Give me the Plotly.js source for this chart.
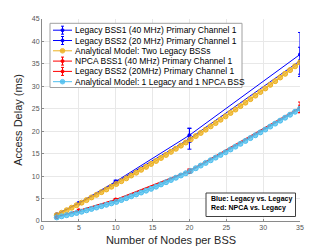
<!DOCTYPE html>
<html>
<head>
<meta charset="utf-8">
<script src="https://cdn.plot.ly/plotly-3.0.1.min.js"></script>
<style>html,body{margin:0;padding:0;background:#fff;}#chart{width:332px;height:249px;}</style>
</head>
<body>
<div id="chart"></div>
<script>
// ---- data ----
const simNodes = [2, 5, 10, 20, 35];
const legacyBss1 = [1.5, 4.0, 8.8, 19.1, 37.1];
const legacyBss1Err = [0.1, 0.2, 0.3, 1.6, 4.9];
const legacyBss2 = [1.4, 3.9, 8.6, 18.3, 35.7];
const legacyBss2Err = [0.1, 0.2, 0.3, 2.3, 3.0];
const npcaBss1 = [0.9, 2.4, 4.8, 11.2, 25.3];
const npcaBss1Err = [0.1, 0.15, 0.2, 0.4, 1.2];
const npcaLegacyBss2 = [0.9, 2.3, 4.7, 11.0, 25.0];
const npcaLegacyBss2Err = [0.1, 0.15, 0.2, 0.4, 0.8];

const modelNodes = [2.00,2.67,3.35,4.02,4.69,5.37,6.04,6.71,7.39,8.06,8.73,9.41,10.08,10.76,11.43,12.10,12.78,13.45,14.12,14.80,15.47,16.14,16.82,17.49,18.16,18.84,19.51,20.18,20.86,21.53,22.20,22.88,23.55,24.22,24.90,25.57,26.24,26.92,27.59,28.27,28.94,29.61,30.29,30.96,31.63,32.31,32.98,33.65,34.33,35.00];
const modelTwoLegacy = [1.30,1.84,2.40,2.95,3.52,4.09,4.66,5.25,5.83,6.43,7.03,7.64,8.25,8.87,9.50,10.13,10.77,11.41,12.06,12.72,13.38,14.05,14.72,15.41,16.09,16.79,17.49,18.19,18.91,19.62,20.35,21.08,21.82,22.56,23.31,24.07,24.83,25.60,26.37,27.15,27.94,28.73,29.53,30.34,31.15,31.97,32.79,33.62,34.46,35.30];
const modelLegacyNpca = [0.80,1.05,1.29,1.54,1.79,2.07,2.38,2.69,3.00,3.31,3.62,3.93,4.25,4.67,5.09,5.50,5.92,6.34,6.76,7.17,7.65,8.15,8.64,9.14,9.64,10.14,10.64,11.16,11.75,12.35,12.94,13.53,14.12,14.72,15.31,15.94,16.57,17.20,17.84,18.47,19.10,19.74,20.38,21.04,21.70,22.36,23.02,23.68,24.34,25.00];

const seriesNames = [
  'Legacy BSS1 (40 MHz) Primary Channel 1',
  'Legacy BSS2 (20 MHz) Primary Channel 1',
  'Analytical Model: Two Legacy BSSs',
  'NPCA BSS1 (40 MHz) Primary Channel 1',
  'Legacy BSS2 (20MHz) Primary Channel 1',
  'Analytical Model: 1 Legacy and 1 NPCA BSS'
];
const xTicks = [0, 5, 10, 15, 20, 25, 30, 35];
const yTicks = [0, 5, 10, 15, 20, 25, 30, 35, 40, 45];
const noteLines = ['Blue: Legacy vs. Legacy', 'Red: NPCA vs. Legacy'];

// ---- styles ----
const BLUE = '#0000ff', RED = '#ff0000', ORANGE = '#EDB120', CYAN = '#4DBEEE';
const FONT = 'Liberation Sans, Arial, sans-serif';

function simTrace(y, err, name, color) {
  return {
    x: simNodes, y: y, name: name, type: 'scatter', mode: 'lines+markers',
    line: {color: color, width: 1},
    marker: {color: color, size: 4, symbol: 'circle'},
    error_y: {type: 'data', array: err, visible: true, color: color, thickness: 1, width: 2},
    showlegend: false, hoverinfo: 'skip'
  };
}
function modelTrace(y, name, color, fill) {
  return {
    x: modelNodes, y: y, name: name, type: 'scatter', mode: 'lines+markers',
    line: {color: color, width: 1},
    marker: {color: fill, size: 5, symbol: 'circle', line: {color: color, width: 1}},
    showlegend: false, hoverinfo: 'skip'
  };
}

const traces = [
  simTrace(legacyBss1, legacyBss1Err, seriesNames[0], BLUE),
  simTrace(legacyBss2, legacyBss2Err, seriesNames[1], BLUE),
  modelTrace(modelTwoLegacy, seriesNames[2], ORANGE, 'rgba(237,177,32,0.75)'),
  simTrace(npcaBss1, npcaBss1Err, seriesNames[3], RED),
  simTrace(npcaLegacyBss2, npcaLegacyBss2Err, seriesNames[4], RED),
  modelTrace(modelLegacyNpca, seriesNames[5], CYAN, 'rgba(77,190,238,0.75)')
];

// ---- layout geometry (pixels -> paper) ----
const L = 42, R = 32, T = 19, B = 28, W = 332, H = 249;
const PW = W - L - R, PH = H - T - B;
const px = X => (X - L) / PW;
const py = Y => (H - B - Y) / PH;

const shapes = [];
const annotations = [];
// legend box
shapes.push({type: 'rect', xref: 'paper', yref: 'paper', x0: px(50), x1: px(242), y0: py(87.5), y1: py(23.3),
  line: {color: '#a0a0a0', width: 1}, fillcolor: 'rgba(255,255,255,1)', layer: 'above'});
const legColors = [BLUE, BLUE, ORANGE, RED, RED, CYAN];
const legHasErr = [true, true, false, true, true, false];
for (let k = 0; k < 6; k++) {
  const yc = 30.2 + 10.3 * k;
  shapes.push({type: 'line', xref: 'paper', yref: 'paper', x0: px(53), x1: px(72), y0: py(yc), y1: py(yc),
    line: {color: legColors[k], width: 1}, layer: 'above'});
  if (legHasErr[k]) {
    shapes.push({type: 'line', xref: 'paper', yref: 'paper', x0: px(62.5), x1: px(62.5), y0: py(yc - 4), y1: py(yc + 4),
      line: {color: legColors[k], width: 1}, layer: 'above'});
    shapes.push({type: 'line', xref: 'paper', yref: 'paper', x0: px(61), x1: px(64), y0: py(yc - 4), y1: py(yc - 4),
      line: {color: legColors[k], width: 1}, layer: 'above'});
    shapes.push({type: 'line', xref: 'paper', yref: 'paper', x0: px(61), x1: px(64), y0: py(yc + 4), y1: py(yc + 4),
      line: {color: legColors[k], width: 1}, layer: 'above'});
    shapes.push({type: 'circle', xref: 'paper', yref: 'paper', x0: px(61), x1: px(64), y0: py(yc + 1.5), y1: py(yc - 1.5),
      line: {color: legColors[k], width: 1}, fillcolor: legColors[k], layer: 'above'});
  } else {
    shapes.push({type: 'circle', xref: 'paper', yref: 'paper', x0: px(60.2), x1: px(64.8), y0: py(yc + 2.3), y1: py(yc - 2.3),
      line: {color: legColors[k], width: 1}, fillcolor: legColors[k], opacity: 0.85, layer: 'above'});
  }
  annotations.push({xref: 'paper', yref: 'paper', x: px(73), y: py(yc), xanchor: 'left', yanchor: 'middle',
    text: seriesNames[k], showarrow: false, font: {family: FONT, size: 8.5, color: '#000'}});
}
// note box
shapes.push({type: 'rect', xref: 'paper', yref: 'paper', x0: px(206), x1: px(295.5), y0: py(216.5), y1: py(193),
  line: {color: '#404040', width: 1}, fillcolor: '#fff', layer: 'above'});
annotations.push({xref: 'paper', yref: 'paper', x: px(209), y: py(198.5), xanchor: 'left', yanchor: 'middle',
  text: '<b>' + noteLines[0] + '</b>', showarrow: false, font: {family: FONT, size: 7, color: '#000'}});
annotations.push({xref: 'paper', yref: 'paper', x: px(209), y: py(207.5), xanchor: 'left', yanchor: 'middle',
  text: '<b>' + noteLines[1] + '</b>', showarrow: false, font: {family: FONT, size: 7, color: '#000'}});

const layout = {
  width: W, height: H,
  margin: {l: L, r: R, t: T, b: B, pad: 0},
  paper_bgcolor: '#fff', plot_bgcolor: '#fff',
  font: {family: FONT},
  showlegend: false,
  xaxis: {
    range: [0, 35], tickvals: xTicks, ticktext: xTicks.map(String),
    showgrid: true, gridcolor: '#e8e8e8', gridwidth: 1, zeroline: false,
    showline: true, linecolor: '#8a8a8a', linewidth: 1, mirror: false,
    ticks: 'inside', ticklen: 2, tickcolor: '#8a8a8a',
    tickfont: {family: FONT, size: 7, color: '#555'},
    title: {text: 'Number of Nodes per BSS', font: {family: FONT, size: 11, color: '#262626'}, standoff: 5},
    fixedrange: true
  },
  yaxis: {
    range: [0, 45], tickvals: yTicks, ticktext: yTicks.map(String),
    showgrid: true, gridcolor: '#e8e8e8', gridwidth: 1, zeroline: false,
    showline: true, linecolor: '#8a8a8a', linewidth: 1, mirror: false,
    ticks: 'inside', ticklen: 2, tickcolor: '#8a8a8a',
    tickfont: {family: FONT, size: 7, color: '#555'},
    title: {text: 'Access Delay (ms)', font: {family: FONT, size: 11, color: '#262626'}, standoff: 6},
    fixedrange: true
  },
  shapes: shapes,
  annotations: annotations
};

Plotly.newPlot('chart', traces, layout, {displayModeBar: false, staticPlot: true});
</script>
</body>
</html>
